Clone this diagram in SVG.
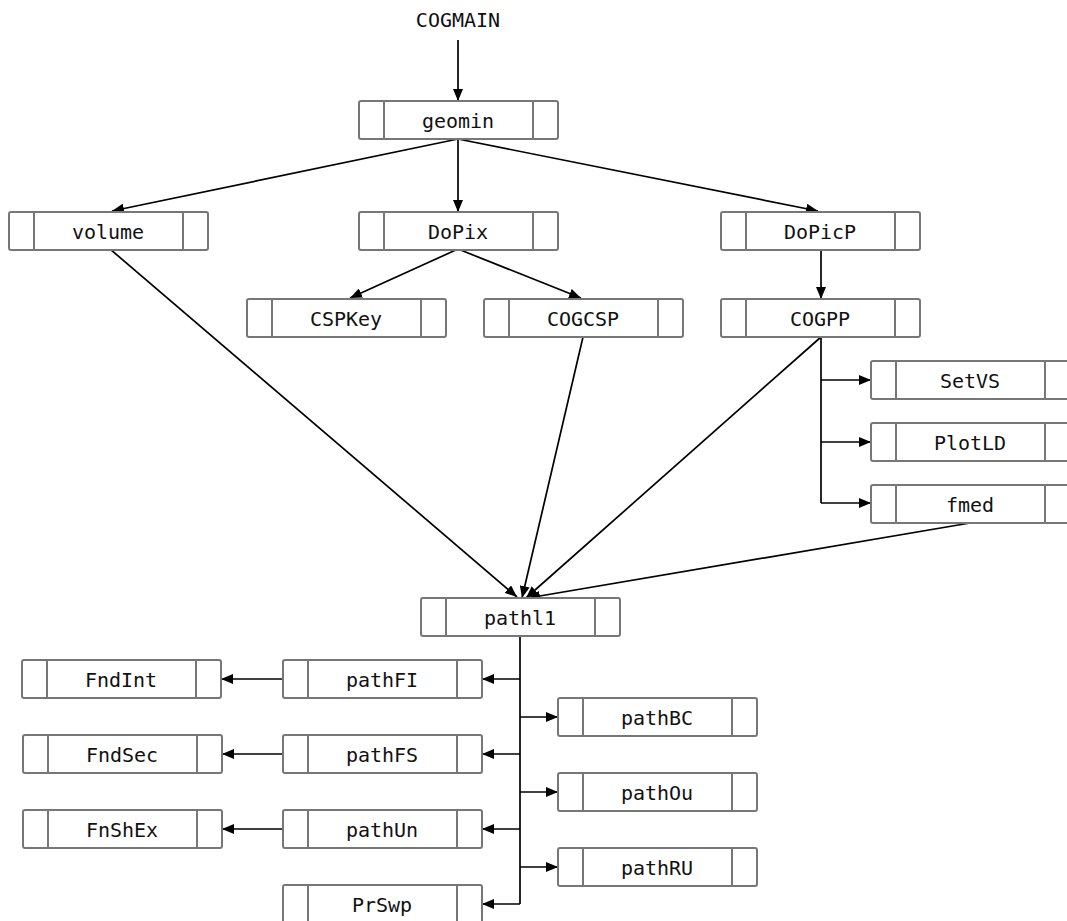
<svg xmlns="http://www.w3.org/2000/svg" width="1067" height="921" viewBox="0 0 1067 921">
<style>
.box{fill:#fff;stroke:#777;stroke-width:2}
.div{stroke:#777;stroke-width:2}
.lbl{font-family:"DejaVu Sans Mono","Liberation Mono",monospace;font-size:20px;fill:#111;text-anchor:middle}
.edge{fill:none;stroke:#000;stroke-width:1.7}
</style>
<defs>
<marker id="ah" viewBox="0 0 12 10" refX="12" refY="5" markerWidth="12" markerHeight="10" markerUnits="userSpaceOnUse" orient="auto">
<path d="M0,0 L12,5 L0,10 Z" fill="#000"/>
</marker>
<g id="nb">
<rect class="box" x="0" y="0" width="199" height="38" rx="2"/>
<line class="div" x1="25" y1="0" x2="25" y2="38"/>
<line class="div" x1="174" y1="0" x2="174" y2="38"/>
</g>
</defs>
<rect width="1067" height="921" fill="#fff"/>
<g id="connectors">
<line class="edge" x1="458" y1="40" x2="458" y2="101" marker-end="url(#ah)"/>
<line class="edge" x1="458" y1="139" x2="112" y2="211" marker-end="url(#ah)"/>
<line class="edge" x1="458" y1="139" x2="458" y2="212" marker-end="url(#ah)"/>
<line class="edge" x1="458" y1="139" x2="818" y2="211" marker-end="url(#ah)"/>
<line class="edge" x1="458" y1="249" x2="350" y2="298" marker-end="url(#ah)"/>
<line class="edge" x1="458" y1="249" x2="581" y2="298" marker-end="url(#ah)"/>
<line class="edge" x1="821" y1="249" x2="821" y2="299" marker-end="url(#ah)"/>
<path class="edge" d="M821,337 V503"/>
<line class="edge" x1="821" y1="380" x2="871" y2="380" marker-end="url(#ah)"/>
<line class="edge" x1="821" y1="442" x2="871" y2="442" marker-end="url(#ah)"/>
<line class="edge" x1="821" y1="503" x2="871" y2="503" marker-end="url(#ah)"/>
<line class="edge" x1="110" y1="249" x2="517" y2="597" marker-end="url(#ah)"/>
<line class="edge" x1="583" y1="337" x2="522" y2="598" marker-end="url(#ah)"/>
<line class="edge" x1="821" y1="337" x2="526" y2="598" marker-end="url(#ah)"/>
<line class="edge" x1="970" y1="523" x2="528" y2="598" marker-end="url(#ah)"/>
<path class="edge" d="M520,636 V904"/>
<line class="edge" x1="520" y1="679" x2="482" y2="679" marker-end="url(#ah)"/>
<line class="edge" x1="520" y1="754" x2="482" y2="754" marker-end="url(#ah)"/>
<line class="edge" x1="520" y1="829" x2="482" y2="829" marker-end="url(#ah)"/>
<line class="edge" x1="520" y1="904" x2="482" y2="904" marker-end="url(#ah)"/>
<line class="edge" x1="520" y1="717" x2="558" y2="717" marker-end="url(#ah)"/>
<line class="edge" x1="520" y1="792" x2="558" y2="792" marker-end="url(#ah)"/>
<line class="edge" x1="520" y1="867" x2="558" y2="867" marker-end="url(#ah)"/>
<line class="edge" x1="283" y1="679" x2="221" y2="679" marker-end="url(#ah)"/>
<line class="edge" x1="283" y1="754" x2="222" y2="754" marker-end="url(#ah)"/>
<line class="edge" x1="283" y1="829" x2="222" y2="829" marker-end="url(#ah)"/>
</g>
<g id="COGMAIN"><text class="lbl" x="458" y="27">COGMAIN</text></g>
<g id="geomin"><use href="#nb" x="359" y="101"/><text class="lbl" x="458" y="128">geomin</text></g>
<g id="volume"><use href="#nb" x="9" y="212"/><text class="lbl" x="108" y="239">volume</text></g>
<g id="DoPix"><use href="#nb" x="359" y="212"/><text class="lbl" x="458" y="239">DoPix</text></g>
<g id="DoPicP"><use href="#nb" x="721" y="212"/><text class="lbl" x="820" y="239">DoPicP</text></g>
<g id="CSPKey"><use href="#nb" x="247" y="299"/><text class="lbl" x="346" y="326">CSPKey</text></g>
<g id="COGCSP"><use href="#nb" x="484" y="299"/><text class="lbl" x="583" y="326">COGCSP</text></g>
<g id="COGPP"><use href="#nb" x="721" y="299"/><text class="lbl" x="820" y="326">COGPP</text></g>
<g id="SetVS"><use href="#nb" x="871" y="361"/><text class="lbl" x="970" y="388">SetVS</text></g>
<g id="PlotLD"><use href="#nb" x="871" y="423"/><text class="lbl" x="970" y="450">PlotLD</text></g>
<g id="fmed"><use href="#nb" x="871" y="485"/><text class="lbl" x="970" y="512">fmed</text></g>
<g id="pathl1"><use href="#nb" x="421" y="598"/><text class="lbl" x="520" y="625">pathl1</text></g>
<g id="pathFI"><use href="#nb" x="283" y="660"/><text class="lbl" x="382" y="687">pathFI</text></g>
<g id="pathFS"><use href="#nb" x="283" y="735"/><text class="lbl" x="382" y="762">pathFS</text></g>
<g id="pathUn"><use href="#nb" x="283" y="810"/><text class="lbl" x="382" y="837">pathUn</text></g>
<g id="PrSwp"><use href="#nb" x="283" y="885"/><text class="lbl" x="382" y="912">PrSwp</text></g>
<g id="pathBC"><use href="#nb" x="558" y="698"/><text class="lbl" x="657" y="725">pathBC</text></g>
<g id="pathOu"><use href="#nb" x="558" y="773"/><text class="lbl" x="657" y="800">pathOu</text></g>
<g id="pathRU"><use href="#nb" x="558" y="848"/><text class="lbl" x="657" y="875">pathRU</text></g>
<g id="FndInt"><use href="#nb" x="22" y="660"/><text class="lbl" x="121" y="687">FndInt</text></g>
<g id="FndSec"><use href="#nb" x="23" y="735"/><text class="lbl" x="122" y="762">FndSec</text></g>
<g id="FnShEx"><use href="#nb" x="23" y="810"/><text class="lbl" x="122" y="837">FnShEx</text></g>
</svg>
